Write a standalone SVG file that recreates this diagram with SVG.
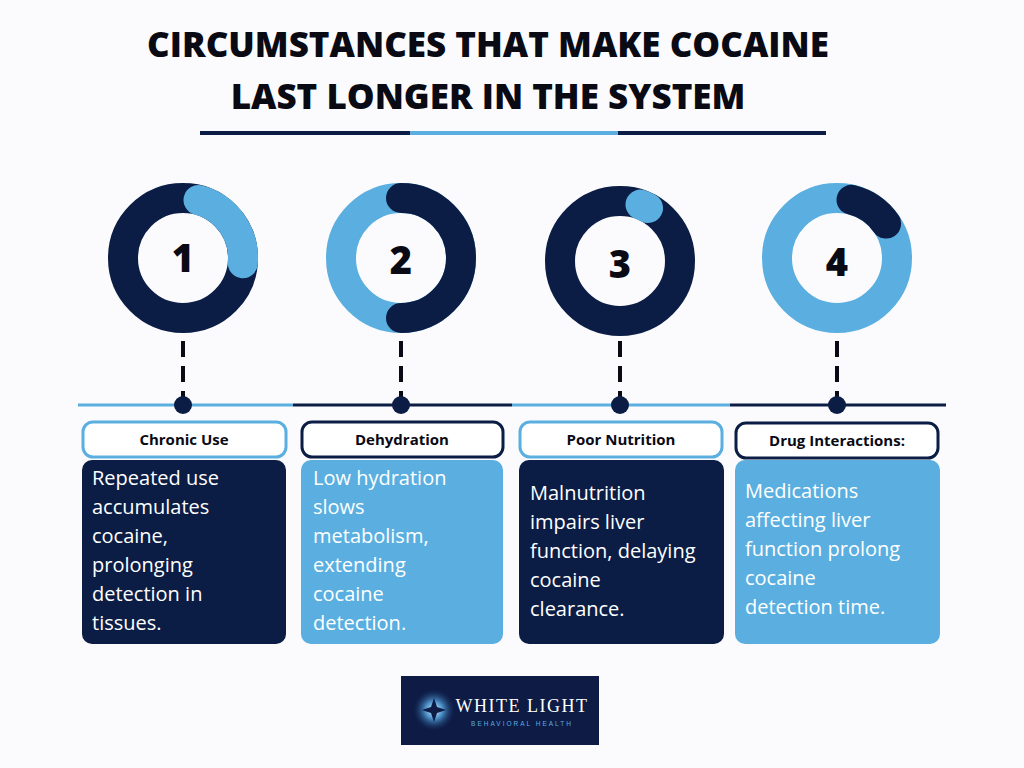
<svg xmlns="http://www.w3.org/2000/svg" width="1024" height="768" viewBox="0 0 1024 768">
<defs>
<style>
.title{font-family:"Open Sans","Liberation Sans",sans-serif;font-weight:800;font-size:35px;fill:#0a0a14;text-anchor:middle}
.num{font-family:"Open Sans","Liberation Sans",sans-serif;font-weight:800;font-size:38px;fill:#0a0a14;text-anchor:middle}
.lbl{font-family:"Open Sans","Liberation Sans",sans-serif;font-weight:700;font-size:15px;fill:#0a0a14;text-anchor:middle}
.body{font-family:"Open Sans","Liberation Sans",sans-serif;font-size:20px;fill:#ffffff}
.dash{stroke:#0a0a14;stroke-width:4;stroke-dasharray:16 9}
.dot{fill:#0b1d45}
.ring{fill:none;stroke-width:30}
.arc{fill:none;stroke-width:30;stroke-linecap:round}
</style>
<radialGradient id="glow"><stop offset="0" stop-color="#d8f0ff"/><stop offset="0.4" stop-color="#4a90c8"/><stop offset="1" stop-color="#0d1b45" stop-opacity="0"/></radialGradient>
</defs>
<rect width="1024" height="768" fill="#fbfbfd"/>
<text class="title" x="488" y="57">CIRCUMSTANCES THAT MAKE COCAINE</text>
<text class="title" x="488" y="109">LAST LONGER IN THE SYSTEM</text>
<g stroke-width="4">
<line x1="200" y1="133" x2="410" y2="133" stroke="#0b1d45"/>
<line x1="410" y1="133" x2="618" y2="133" stroke="#5aafe0"/>
<line x1="618" y1="133" x2="826" y2="133" stroke="#0b1d45"/>
</g>
<g id="connectors">
<line x1="78" y1="405" x2="293" y2="405" stroke="#5aafe0" stroke-width="3"/>
<line x1="293" y1="405" x2="512" y2="405" stroke="#0b1d45" stroke-width="3"/>
<line x1="512" y1="405" x2="730" y2="405" stroke="#5aafe0" stroke-width="3"/>
<line x1="730" y1="405" x2="946" y2="405" stroke="#0b1d45" stroke-width="3"/>
<line class="dash" x1="183" y1="341" x2="183" y2="398"/>
<line class="dash" x1="401" y1="341" x2="401" y2="398"/>
<line class="dash" x1="620" y1="341" x2="620" y2="398"/>
<line class="dash" x1="837" y1="341" x2="837" y2="398"/>
<circle class="dot" cx="183" cy="405" r="9"/>
<circle class="dot" cx="401" cy="405" r="9"/>
<circle class="dot" cx="620" cy="405" r="9"/>
<circle class="dot" cx="837" cy="405" r="9"/>
</g>
<g id="node1">
<circle class="ring" cx="183" cy="258" r="60" stroke="#0b1d45"/>
<path class="arc" d="M198.5,200 A60,60 0 0 1 242.8,263.2" stroke="#5aafe0"/>
<text class="num" x="183" y="272">1</text>
<rect x="83" y="422" width="203" height="35" rx="10" fill="#fff" stroke="#5aafe0" stroke-width="3"/>
<text class="lbl" x="184" y="445">Chronic Use</text>
<rect x="82" y="460" width="204" height="184" rx="10" fill="#0b1d45"/>
<text class="body"><tspan x="92" y="485"> Repeated use</tspan><tspan x="92" y="514">accumulates</tspan><tspan x="92" y="543">cocaine,</tspan><tspan x="92" y="572">prolonging</tspan><tspan x="92" y="601">detection in</tspan><tspan x="92" y="630">tissues.</tspan></text>
</g>
<g id="node2">
<circle class="ring" cx="401" cy="258" r="60" stroke="#5aafe0"/>
<path class="arc" d="M401,198 A60,60 0 0 1 401,318" stroke="#0b1d45"/>
<text class="num" x="401" y="274">2</text>
<rect x="302" y="422" width="201" height="35" rx="10" fill="#fff" stroke="#0b1d45" stroke-width="3"/>
<text class="lbl" x="402" y="445">Dehydration</text>
<rect x="301" y="460" width="202" height="184" rx="10" fill="#5aafe0"/>
<text class="body"><tspan x="313" y="485">Low hydration</tspan><tspan x="313" y="514">slows</tspan><tspan x="313" y="543">metabolism,</tspan><tspan x="313" y="572">extending</tspan><tspan x="313" y="601">cocaine</tspan><tspan x="313" y="630">detection.</tspan></text>
</g>
<g id="node3">
<circle class="ring" cx="620" cy="261" r="60" stroke="#0b1d45"/>
<path class="arc" d="M640.5,204.6 A60,60 0 0 1 648,208" stroke="#5aafe0"/>
<text class="num" x="620" y="278">3</text>
<rect x="520" y="422" width="202" height="35" rx="10" fill="#fff" stroke="#5aafe0" stroke-width="3"/>
<text class="lbl" x="621" y="445">Poor Nutrition</text>
<rect x="519" y="460" width="205" height="184" rx="10" fill="#0b1d45"/>
<text class="body"><tspan x="530" y="500">Malnutrition</tspan><tspan x="530" y="529">impairs liver</tspan><tspan x="530" y="558">function, delaying</tspan><tspan x="530" y="587">cocaine</tspan><tspan x="530" y="616">clearance.</tspan></text>
</g>
<g id="node4">
<circle class="ring" cx="837" cy="258" r="60" stroke="#5aafe0"/>
<path class="arc" d="M851.5,199.8 A60,60 0 0 1 886.1,223.6" stroke="#0b1d45"/>
<text class="num" x="837" y="276">4</text>
<rect x="736" y="423" width="202" height="35" rx="10" fill="#fff" stroke="#0b1d45" stroke-width="3"/>
<text class="lbl" x="837" y="446">Drug Interactions:</text>
<rect x="735" y="460" width="205" height="184" rx="10" fill="#5aafe0"/>
<text class="body"><tspan x="745" y="498">Medications</tspan><tspan x="745" y="527">affecting liver</tspan><tspan x="745" y="556">function prolong</tspan><tspan x="745" y="585">cocaine</tspan><tspan x="745" y="614">detection time.</tspan></text>
</g>
<g id="logo">
<rect x="401" y="676" width="198" height="69" fill="#0d1b45"/>
<circle cx="434" cy="710" r="22" fill="url(#glow)"/>
<path d="M434,698 L437,707 L446,710 L437,713 L434,722 L431,713 L422,710 L431,707 Z" fill="#0d1b45"/>
<text x="522" y="712" font-family="Liberation Serif,serif" font-size="18" fill="#fff" text-anchor="middle" letter-spacing="1.5">WHITE LIGHT</text>
<text x="522" y="726" font-family="Liberation Sans,sans-serif" font-size="6.5" fill="#5aafe0" text-anchor="middle" letter-spacing="2">BEHAVIORAL HEALTH</text>
</g>
</svg>
